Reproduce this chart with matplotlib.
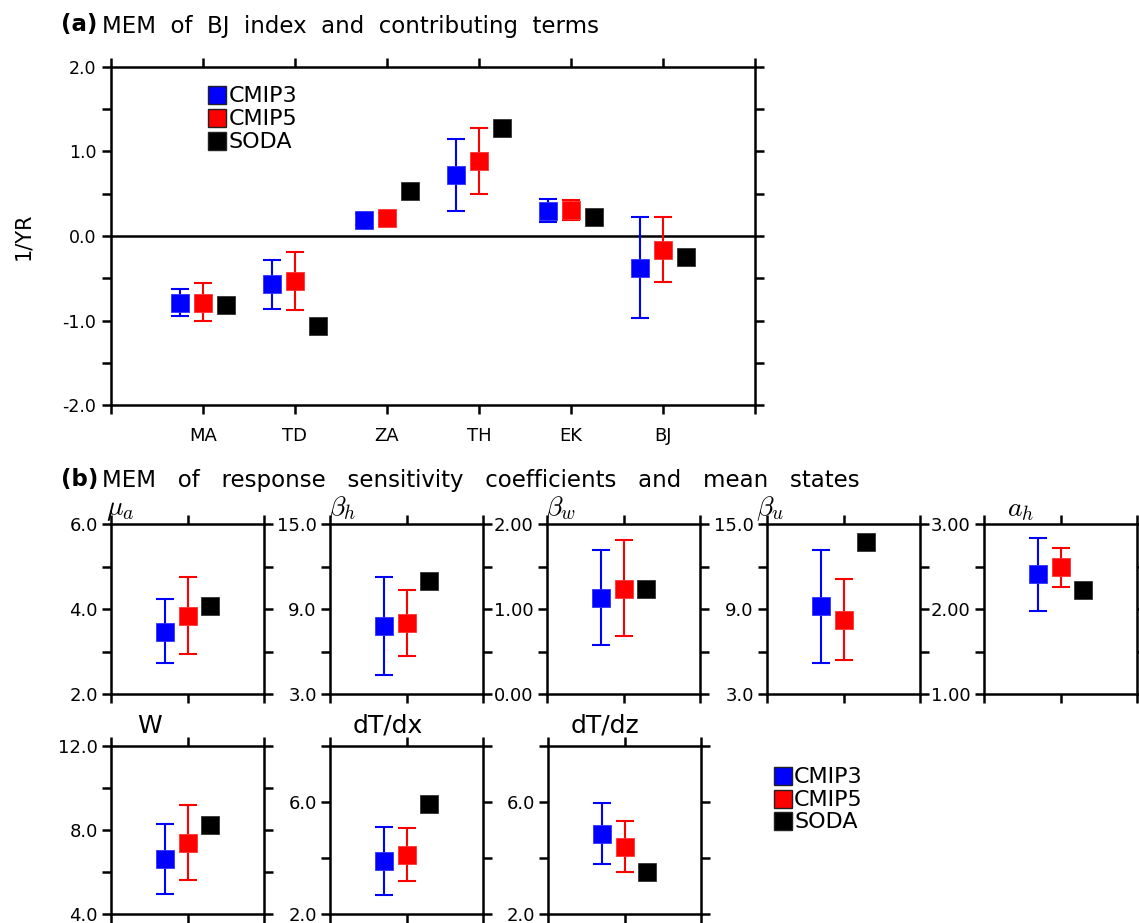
import matplotlib
matplotlib.use('Agg')
import matplotlib.pyplot as plt
from matplotlib.ticker import FixedLocator, FormatStrFormatter

plt.rcParams['font.family'] = ['DejaVu Sans']
plt.rcParams['mathtext.fontset'] = 'cm'
plt.rcParams['axes.unicode_minus'] = False

# ---------------- data: panel (a) ----------------
terms = ['MA', 'TD', 'ZA', 'TH', 'EK', 'BJ']
cmip3_a = [-0.79, -0.57, 0.19, 0.72, 0.30, -0.38]
cmip3_a_lo = [-0.95, -0.86, 0.13, 0.29, 0.16, -0.97]
cmip3_a_hi = [-0.63, -0.28, 0.26, 1.15, 0.44, 0.22]
cmip5_a = [-0.79, -0.53, 0.21, 0.89, 0.31, -0.17]
cmip5_a_lo = [-1.01, -0.87, 0.14, 0.50, 0.19, -0.55]
cmip5_a_hi = [-0.56, -0.19, 0.27, 1.28, 0.43, 0.23]
soda_a = [-0.82, -1.06, 0.53, 1.28, 0.22, -0.25]

# ---------------- data: panel (b) ----------------
params = [r'$\mu_a$', r'$\beta_h$', r'$\beta_w$', r'$\beta_u$', r'$a_h$',
          'W', 'dT/dx', 'dT/dz']
cmip3_b = [3.47, 7.80, 1.13, 9.21, 2.41, 6.60, 3.89, 4.87]
cmip3_b_lo = [2.73, 4.32, 0.575, 5.20, 1.98, 4.94, 2.69, 3.78]
cmip3_b_hi = [4.23, 11.29, 1.69, 13.20, 2.84, 8.28, 5.12, 5.97]
cmip5_b = [3.84, 8.01, 1.24, 8.22, 2.49, 7.39, 4.10, 4.41]
cmip5_b_lo = [2.93, 5.67, 0.685, 5.39, 2.26, 5.64, 3.17, 3.49]
cmip5_b_hi = [4.75, 10.32, 1.81, 11.15, 2.72, 9.17, 5.06, 5.31]
soda_b = [4.07, 10.96, 1.23, 13.75, 2.22, 8.24, 5.92, 3.49]

ylims_b = [(2, 6), (3, 15), (0, 2), (3, 15), (1, 3), (4, 12), (2, 8), (2, 8)]
major_b = [[2, 4, 6], [3, 9, 15], [0, 1, 2], [3, 9, 15], [1, 2, 3],
           [4, 8, 12], [2, 6], [2, 6]]
minor_b = [[3, 5], [6, 12], [0.5, 1.5], [6, 12], [1.5, 2.5],
           [6, 10], [4, 8], [4, 8]]
fmt_b = ['%.1f', '%.1f', '%.2f', '%.1f', '%.2f', '%.1f', '%.1f', '%.1f']

series = ['CMIP3', 'CMIP5', 'SODA']
colors = ['#0000ff', '#ff0000', '#000000']

title_a = 'MEM of BJ index and contributing terms'
title_b = 'MEM of response sensitivity coefficients and mean states'

W, H = 1139, 923
fig = plt.figure(figsize=(W / 100, H / 100), dpi=100)


def ax_px(l, t, r, b):
    return fig.add_axes([l / W, 1 - b / H, (r - l) / W, (b - t) / H])


LW = 1.8
MS = 13
CAP = 6.5
ELW = 1.5


def style(ax, labelsize):
    for s in ax.spines.values():
        s.set_linewidth(LW)
    ax.tick_params(which='both', direction='out', length=6.5, width=LW,
                   top=True, right=True, labelsize=labelsize)


def draw_group(ax, x, m3, lo3, hi3, m5, lo5, hi5, s, off):
    ax.errorbar([x - off], [m3], yerr=[[m3 - lo3], [hi3 - m3]], fmt='none',
                ecolor=colors[0], elinewidth=ELW, capsize=CAP, capthick=ELW,
                zorder=3)
    ax.errorbar([x], [m5], yerr=[[m5 - lo5], [hi5 - m5]], fmt='none',
                ecolor=colors[1], elinewidth=ELW, capsize=CAP, capthick=ELW,
                zorder=3)
    ax.plot([x - off], [m3], 's', color=colors[0], ms=MS, mec='#3333ff',
            mew=0.6, zorder=4)
    ax.plot([x], [m5], 's', color=colors[1], ms=MS, mec='#ff3333',
            mew=0.6, zorder=4)
    ax.plot([x + off], [s], 's', color=colors[2], ms=MS, mec='#333333',
            mew=0.6, zorder=4)


# ---------------- panel (a) ----------------
axa = ax_px(111, 67, 755, 405)
for i in range(len(terms)):
    draw_group(axa, i + 1, cmip3_a[i], cmip3_a_lo[i], cmip3_a_hi[i],
               cmip5_a[i], cmip5_a_lo[i], cmip5_a_hi[i], soda_a[i], 0.25)
axa.axhline(0, color='black', lw=LW, zorder=2)
axa.set_xlim(0, len(terms) + 1)
axa.set_ylim(-2, 2)
axa.set_xticks(range(len(terms) + 2))
axa.set_xticklabels([''] + terms + [''])
axa.yaxis.set_major_locator(FixedLocator([-2, -1, 0, 1, 2]))
axa.yaxis.set_minor_locator(FixedLocator([-1.5, -0.5, 0.5, 1.5]))
axa.yaxis.set_major_formatter(FormatStrFormatter('%.1f'))
style(axa, 12.5)
axa.tick_params(axis='x', labelsize=13, pad=9)
axa.tick_params(axis='y', pad=4)
axa.set_ylabel('1/YR', fontsize=15, labelpad=21)

fig.text(61 / W, 1 - 25 / H, '(a)', fontsize=16.5, fontweight='bold',
         va='center', ha='left')
fig.text(102 / W, 1 - 26 / H, '  '.join(title_a.split(' ')),
         fontsize=16.5, va='center', ha='left')
fig.text(61 / W, 1 - 480 / H, '(b)', fontsize=16.5, fontweight='bold',
         va='center', ha='left')
fig.text(102 / W, 1 - 481 / H, '   '.join(title_b.split(' ')),
         fontsize=16.5, va='center', ha='left')

# ---------------- panel (b) ----------------
lefts_top = [111, 330, 547, 767, 984]
lefts_bot = [111, 330, 548]
boxes = [(l, 524, l + 153, 694) for l in lefts_top] + \
        [(l, 746, l + 153, 914) for l in lefts_bot]
title_dx = [-0.03, -0.01, -0.01, -0.07, 0.15, 0.17, 0.15, 0.15]

for k in range(len(params)):
    ax = ax_px(*boxes[k])
    draw_group(ax, 1, cmip3_b[k], cmip3_b_lo[k], cmip3_b_hi[k],
               cmip5_b[k], cmip5_b_lo[k], cmip5_b_hi[k], soda_b[k], 0.3)
    ax.set_xlim(0, 2)
    ax.set_ylim(*ylims_b[k])
    ax.set_xticks([0, 1, 2])
    ax.set_xticklabels([])
    ax.yaxis.set_major_locator(FixedLocator(major_b[k]))
    ax.yaxis.set_minor_locator(FixedLocator(minor_b[k]))
    ax.yaxis.set_major_formatter(FormatStrFormatter(fmt_b[k]))
    style(ax, 13)
    ax.tick_params(axis='y', pad=3)
    if k < 5:
        ax.text(title_dx[k], 1.003, params[k], transform=ax.transAxes,
                fontsize=20, ha='left', va='bottom')
    else:
        ax.text(title_dx[k], 1.05, params[k], transform=ax.transAxes,
                fontsize=18, ha='left', va='bottom')

# ---------------- legends ----------------
ov = fig.add_axes([0, 0, 1, 1], facecolor='none')
ov.set_xlim(0, W)
ov.set_ylim(H, 0)
ov.axis('off')
for (mx, tx, ys) in [(217, 229, [95, 118, 141]), (783, 794, [776, 799, 821])]:
    for j in range(len(series)):
        ov.plot([mx], [ys[j]], 's', color=colors[j], ms=12.5, mec='#222222',
                mew=1.0)
        ov.text(tx, ys[j] + 1, series[j], fontsize=16, va='center',
                ha='left')

fig.savefig('out.png', dpi=100)
